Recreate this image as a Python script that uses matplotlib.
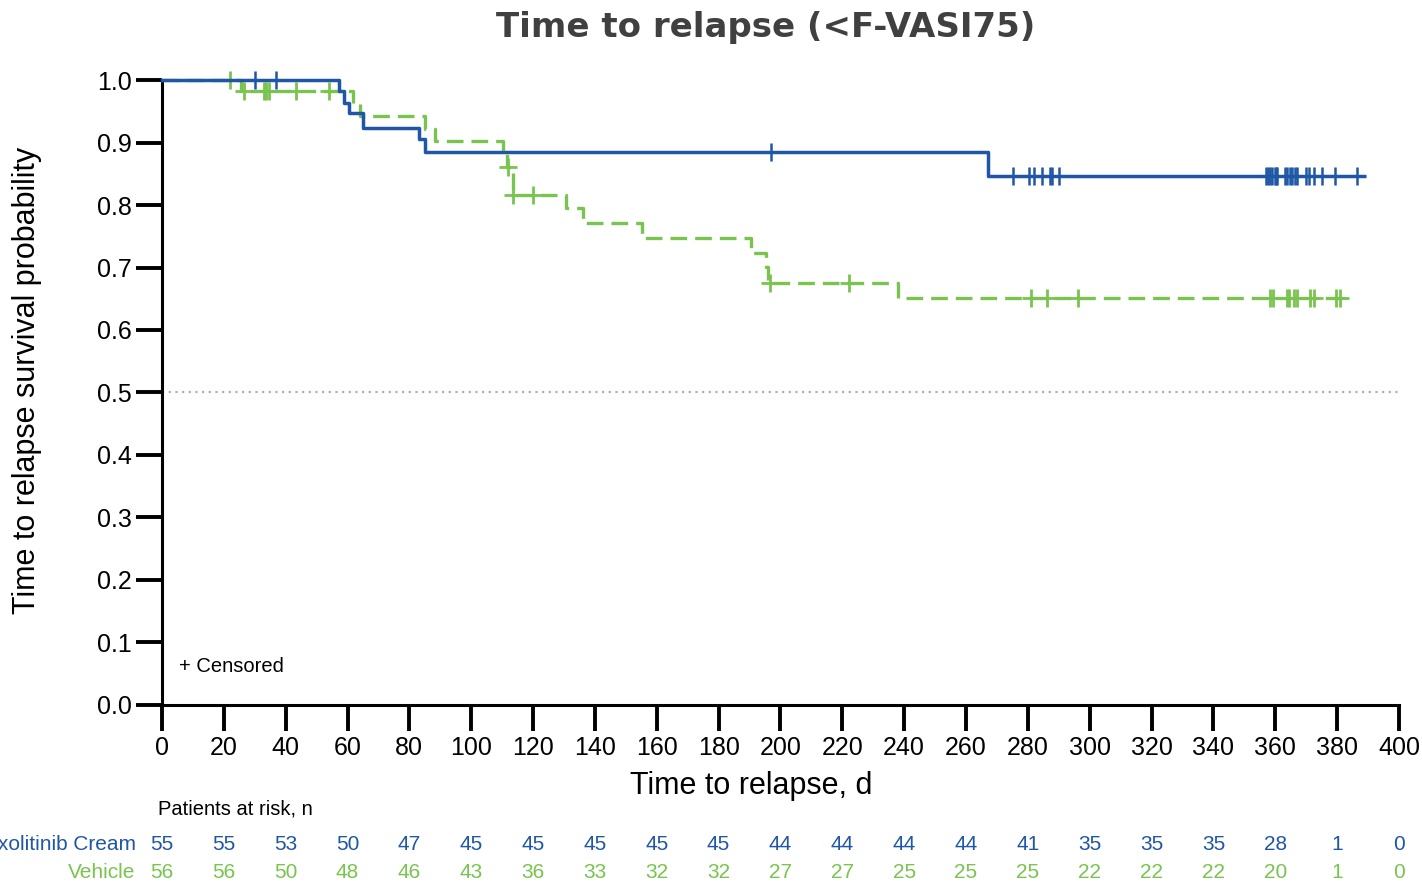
import numpy as np
import matplotlib
matplotlib.use("Agg")
import matplotlib.pyplot as plt

plt.rcParams['font.family'] = ['Liberation Sans', 'DejaVu Sans']

# Kaplan-Meier step curves
rux_times = [0, 57.3, 59.0, 60.6, 65.0, 83.2, 85.1, 267.0, 388.7]
rux_surv = [1.0, 0.982, 0.964, 0.947, 0.924, 0.905, 0.885, 0.846, 0.846]
rux_censor = [30.2, 36.8, 196.9, 275.3, 280.4, 282.1, 284.5, 287.1, 287.9, 290.2,
              357.0, 357.8, 358.3, 359.1, 359.9, 360.2, 360.7, 363.1, 363.9, 364.7,
              365.5, 366.4, 367.1, 370.1, 371.0, 372.5, 375.2, 379.3, 386.5]

veh_times = [0, 25.4, 61.9, 64.0, 85.1, 88.3, 110.4, 111.5, 113.4, 130.8, 136.2,
             155.1, 190.5, 195.3, 196.0, 237.9, 383.9]
veh_surv = [1.0, 0.982, 0.964, 0.942, 0.922, 0.902, 0.883, 0.861, 0.816, 0.795, 0.771,
            0.747, 0.724, 0.701, 0.676, 0.652, 0.652]
veh_censor = [22, 26.5, 33.1, 33.8, 34.7, 43.5, 54, 112, 113.6, 120, 196.6, 222.2,
              281, 286.3, 296.1, 358.3, 359.4, 363.7, 364.5, 366.0, 366.9, 371.2,
              372.5, 379.6, 380.9]

risk_times = list(range(0, 401, 20))
rux_risk = [55, 55, 53, 50, 47, 45, 45, 45, 45, 45, 44, 44, 44, 44, 41, 35, 35, 35, 28, 1, 0]
veh_risk = [56, 56, 50, 48, 46, 43, 36, 33, 32, 32, 27, 27, 25, 25, 25, 22, 22, 22, 20, 1, 0]

blue = '#1f56a5'
green = '#78c44e'


def surv_at(times, surv, t):
    i = np.searchsorted(times, t, side='right') - 1
    return np.array(surv)[i]


fig = plt.figure(figsize=(14.22, 8.86), dpi=100)
ax = fig.add_axes([0.1139, 0.2043, 0.8699, 0.7054])

ax.axhline(0.5, color='#b0b0b0', lw=1.6, ls=(0, (1, 2)), xmax=1.0, clip_on=False)

ax.step(veh_times, veh_surv, where='post', color=green, lw=2.4,
        ls=(0, (5, 2.4)), clip_on=False, zorder=3)
ax.plot(veh_censor, surv_at(veh_times, veh_surv, veh_censor), ls='none', marker='+',
        ms=13, mew=2, color=green, clip_on=False, zorder=3)

ax.step(rux_times, rux_surv, where='post', color=blue, lw=2.5, clip_on=False, zorder=4)
ax.plot(rux_censor, surv_at(rux_times, rux_surv, rux_censor), ls='none', marker='+',
        ms=13, mew=1.8, color=blue, clip_on=False, zorder=4)

ax.set_xlim(0, 400)
ax.set_ylim(0, 1.0)
ax.set_xticks(risk_times)
ax.set_yticks(np.arange(0, 1.01, 0.1))
ax.set_yticklabels(['%.1f' % v for v in np.arange(0, 1.01, 0.1)])
for s in ['top', 'right']:
    ax.spines[s].set_visible(False)
for s in ['left', 'bottom']:
    ax.spines[s].set_linewidth(2.2)
ax.tick_params(axis='both', length=19, width=2.8, labelsize=18, direction='out')
ax.tick_params(axis='x', pad=3)
ax.tick_params(axis='y', pad=3)

ax.set_xlabel('Time to relapse, d', fontsize=22)
ax.xaxis.set_label_coords((751 - 162) / 1237, -(771 - 705) / 625)
ax.set_ylabel('Time to relapse survival probability', fontsize=22)
ax.yaxis.set_label_coords(-(162 - 42) / 1237, (705 - 380) / 625)
fig.text(766 / 1422, 1 - 28 / 886, 'Time to relapse (<F-VASI75)', ha='center', va='center',
         fontsize=24.5, fontweight='bold', family='DejaVu Sans', color='#404040')

ax.text(5.5, 0.062, '+ Censored', fontsize=14.5, va='center', ha='left')

# at risk table
fig.text(158 / 1422, 1 - 809 / 886, 'Patients at risk, n', fontsize=14.5, va='center')
trans = ax.get_xaxis_transform()
y1 = -(845 - 705) / 625
y2 = -(873 - 705) / 625
ax.text(-8.5, y1, 'Ruxolitinib Cream', ha='right', va='center', fontsize=15,
        color=blue, transform=trans, clip_on=False)
ax.text(-8.5, y2, 'Vehicle', ha='right', va='center', fontsize=15,
        color=green, transform=trans, clip_on=False)
for t, a, b in zip(risk_times, rux_risk, veh_risk):
    ax.text(t, y1, str(a), ha='center', va='center', fontsize=15, color=blue,
            transform=trans, clip_on=False)
    ax.text(t, y2, str(b), ha='center', va='center', fontsize=15, color=green,
            transform=trans, clip_on=False)

fig.savefig('out.png', dpi=100)
